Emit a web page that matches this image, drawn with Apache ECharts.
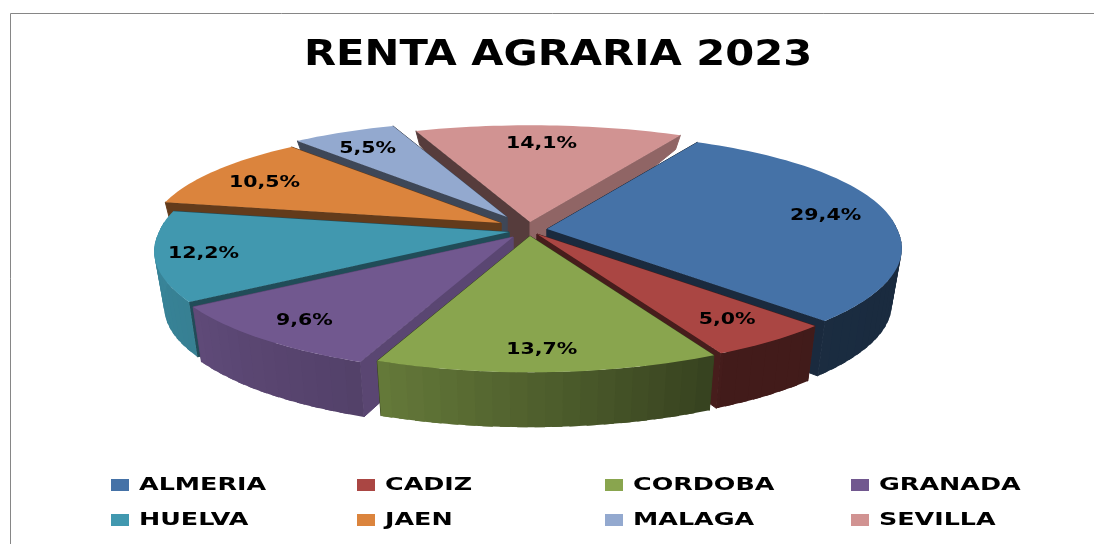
<!DOCTYPE html>
<html><head><meta charset="utf-8">
<style>html,body{margin:0;padding:0;background:#fff}#c{width:1094px;height:544px}</style>
<script src="https://cdn.jsdelivr.net/npm/echarts@6/dist/echarts.min.js"></script>
</head><body><div id="c"></div>
<script>
const titleText = 'RENTA AGRARIA 2023';
const categories = ['ALMERIA','CADIZ','CORDOBA','GRANADA','HUELVA','JAEN','MALAGA','SEVILLA'];
const shares = [29.4,5.0,13.7,9.6,12.2,10.5,5.5,14.1];
const colors = ['#4572A7','#AA4643','#89A54E','#71588F','#4198AF','#DB843D','#93A9CF','#D19392'];

// drawing constants for the tilted, exploded disc
const START = 29, RX = 350, RY = 116.5, K_NEAR = 0.17, K_FAR = 0.13;
const apexX = [547,537,530,513,509,501,507,530];
const apexY = [229,234,236,237,232,223,217,222];
const paintRank = [4,6,7,5,3,2,1,0];
const startWallShade = [.37,.42,.4,.8,.5,.45,.42,.41];
const endWallShade = [.37,.42,.4,.8,.5,.45,.42,.69];
const labelR = [.82,.81,.84,.83,.865,.81,.81,.8];
const labelTurn = [-1,-1,.5,1,.5,-1,-1,-1];

const rad = d => d*Math.PI/180;
const total = shares.reduce((a,b)=>a+b,0);
function range(i){
  let s = START;
  for(let j=0;j<i;j++) s += shares[j]/total*360;
  return [s, s+shares[i]/total*360];
}
function depth(v){ return Math.min(55, Math.max(14, 14+(v+.88)*36)); }
function project(i,deg,r,low){
  const u = r*Math.sin(rad(deg)), v = -r*Math.cos(rad(deg));
  const sx = 1+(v>0?K_NEAR:K_FAR)*v, sy = 1+K_NEAR*v;
  let x = apexX[i]+RX*u*sx, y = apexY[i]+RY*v*sy;
  if(low){ x -= 10*u; y += depth(v); }
  return [x,y];
}
function shade(hex,f){
  const n = parseInt(hex.slice(1),16);
  const c = [n>>16,(n>>8)&255,n&255].map(q=>Math.round(q*f));
  return 'rgb('+c.join(',')+')';
}
function rimShade(deg){
  const d = ((deg%360)+360)%360;
  const stops = [[90,.37],[152,.39],[201,.73],[236,.84],[275,.88]];
  if(d<=90) return .37;
  for(let j=1;j<stops.length;j++){
    if(d<=stops[j][0]){
      const t=(d-stops[j-1][0])/(stops[j][0]-stops[j-1][0]);
      return stops[j-1][1]+t*(stops[j][1]-stops[j-1][1]);
    }
  }
  return .88;
}
function poly(points,fill,z,edge){
  return {type:'polygon',z2:z,shape:{points},style:edge?{fill,stroke:fill,lineWidth:1}:{fill,stroke:null}};
}
function renderSlice(params,api){
  const i = params.dataIndex, value = api.value(0);
  const [a0,a1] = range(i), z = paintRank[i]*100, kids = [];
  const c = colors[i];
  const wall = (deg,f,zz)=>poly([project(i,0,0,false),project(i,deg,1,false),project(i,deg,1,true),project(i,0,0,true)],shade(c,f),zz,true);
  kids.push(wall(a0,startWallShade[i],z));
  kids.push(wall(a1,endWallShade[i],z));
  const lo = Math.max(a0,85), hi = Math.min(a1,275);
  let seg = 1;
  for(let d=lo;d<hi;d+=2.5){
    const e = Math.min(d+4,hi);
    kids.push(poly([project(i,d,1,false),project(i,e,1,false),project(i,e,1,true),project(i,d,1,true)],shade(c,rimShade(d+1.25)),z+seg));
    seg++;
  }
  const top = [project(i,0,0,false)];
  const n = Math.ceil((a1-a0)/1.5);
  for(let j=0;j<=n;j++) top.push(project(i,a0+(a1-a0)*j/n,1,false));
  kids.push(poly(top,c,z+90));
  const p = project(i,(a0+a1)/2+labelTurn[i],labelR[i],false);
  kids.push({type:'text',z2:5000,x:p[0],y:p[1]+2,scaleX:1.28,style:{
    text:value.toFixed(1).replace('.',',')+'%',fill:'#000',
    font:'bold 16px "DejaVu Sans"',textAlign:'center',textVerticalAlign:'middle'}});
  return {type:'group',children:kids};
}

const colX = [111,357,605,851], rowY = [485,520];
const legendGraphics = [];
categories.forEach((name,i)=>{
  const x = colX[i%4], y = rowY[i<4?0:1];
  legendGraphics.push({type:'rect',shape:{x,y:y-6,width:18,height:12},style:{fill:colors[i]}});
  legendGraphics.push({type:'text',x:x+28,y,scaleX:1.41,style:{text:name,fill:'#000',
    font:'bold 18px "DejaVu Sans"',textAlign:'left',textVerticalAlign:'middle'}});
});

const chart = echarts.init(document.getElementById('c'),null,{renderer:'canvas'});
chart.setOption({
  animation:false,
  backgroundColor:'#fff',
  graphic:[
    {type:'polyline',shape:{points:[[10.5,544],[10.5,13.5],[1094,13.5]]},style:{stroke:'#868686',lineWidth:1,fill:'none'}},
    {type:'text',x:304,y:56,scaleX:1.19,style:{text:titleText,fill:'#000',
      font:'bold 35px "DejaVu Sans"',textAlign:'left',textVerticalAlign:'middle'}},
    ...legendGraphics
  ],
  series:[{
    type:'custom',coordinateSystem:'none',
    data:shares.map((v,i)=>({name:categories[i],value:[v]})),
    renderItem:renderSlice,silent:true
  }]
});
</script></body></html>
